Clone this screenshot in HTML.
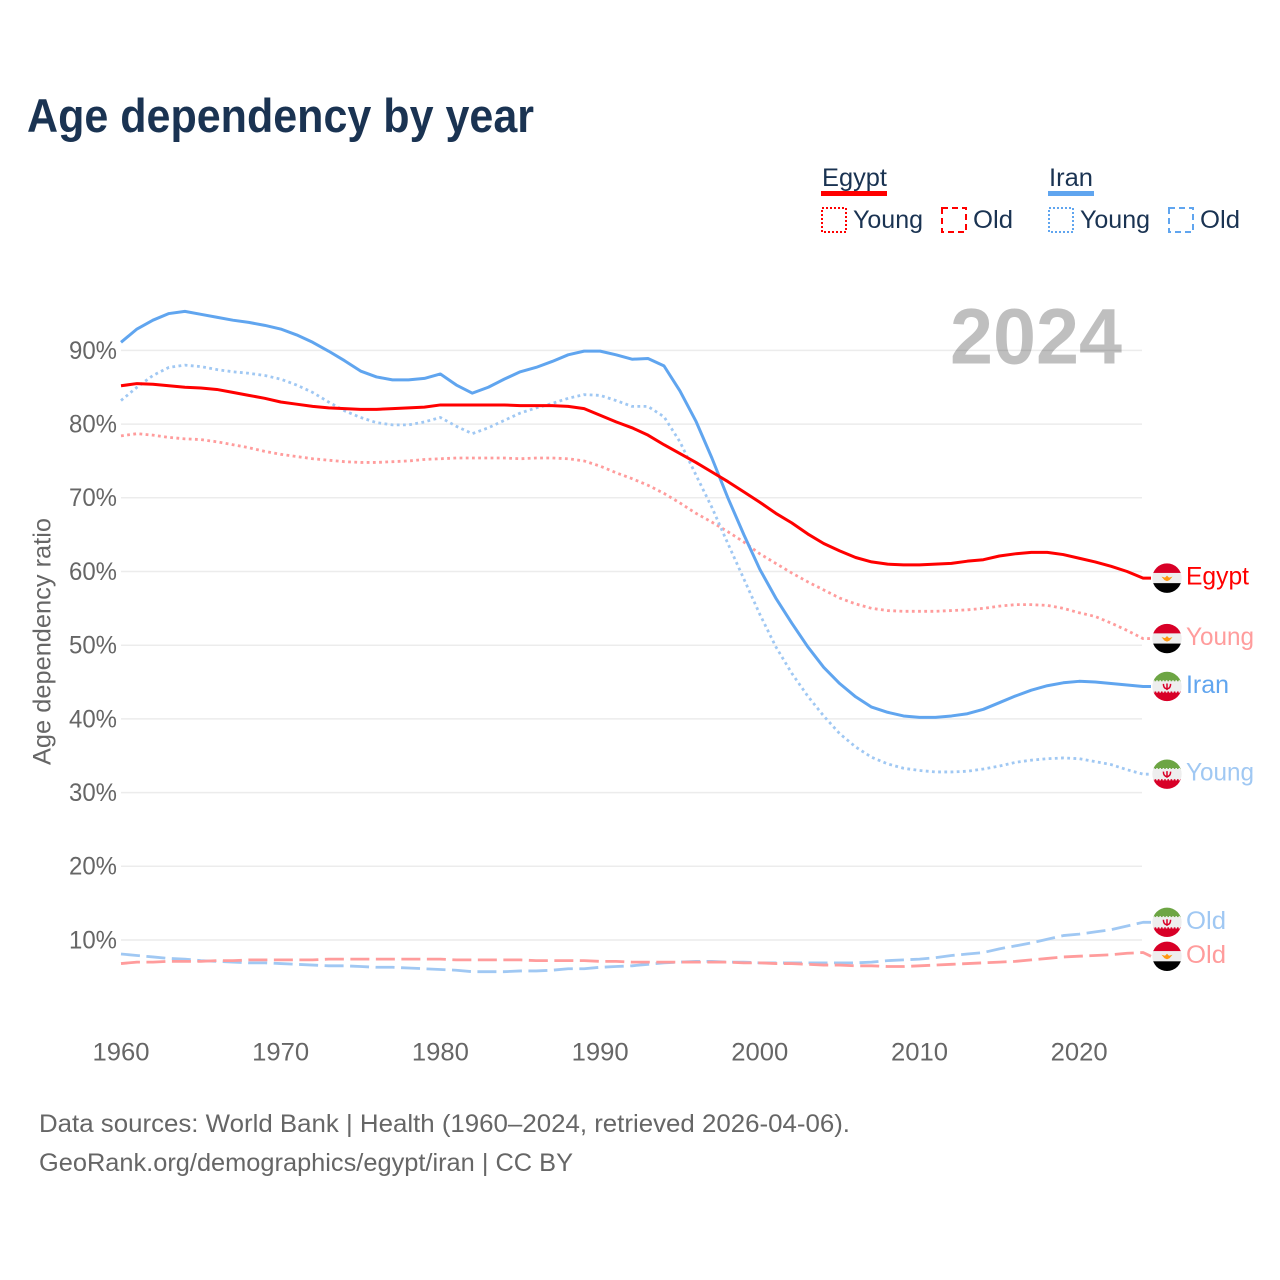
<!DOCTYPE html>
<html lang="en">
<head>
<meta charset="utf-8">
<title>Age dependency by year</title>
<style>
  html, body { margin: 0; padding: 0; background: #fff; }
  svg { display: block; font-family: "Liberation Sans", sans-serif; }
</style>
</head>
<body>
<svg id="chart" xmlns="http://www.w3.org/2000/svg" width="1280" height="1280" viewBox="0 0 1280 1280">
  <rect width="1280" height="1280" fill="#fff"/>
  <defs>
    <clipPath id="flag-clip"><circle cx="0" cy="0" r="14.7"/></clipPath>
  </defs>
  <text x="27" y="132" font-size="47" font-weight="700" fill="#1a3352" textLength="507" lengthAdjust="spacingAndGlyphs">Age dependency by year</text>

  <g font-size="25" fill="#1a3352">
    <g>
      <text x="822" y="186" textLength="65" lengthAdjust="spacingAndGlyphs">Egypt</text>
      <rect x="821" y="191" width="66" height="5" fill="#ff0000"/>
      <rect x="822" y="208" width="24" height="24" fill="none" stroke="#ff0000" stroke-width="2" stroke-dasharray="2 2"/>
      <text x="853" y="228" textLength="70" lengthAdjust="spacingAndGlyphs">Young</text>
      <rect x="942" y="208" width="24" height="24" fill="none" stroke="#ff0000" stroke-width="2" stroke-dasharray="6 4"/>
      <text x="973" y="228" textLength="40" lengthAdjust="spacingAndGlyphs">Old</text>
    </g>
    <g>
      <text x="1049" y="186" textLength="44" lengthAdjust="spacingAndGlyphs">Iran</text>
      <rect x="1048" y="191" width="46" height="5" fill="#60a5ef"/>
      <rect x="1049" y="208" width="24" height="24" fill="none" stroke="#60a5ef" stroke-width="2" stroke-dasharray="2 2"/>
      <text x="1080" y="228" textLength="70" lengthAdjust="spacingAndGlyphs">Young</text>
      <rect x="1169" y="208" width="24" height="24" fill="none" stroke="#60a5ef" stroke-width="2" stroke-dasharray="6 4"/>
      <text x="1200" y="228" textLength="40" lengthAdjust="spacingAndGlyphs">Old</text>
    </g>
  </g>

  <text transform="translate(50.5,765) rotate(-90)" font-size="25" fill="#666" textLength="247" lengthAdjust="spacingAndGlyphs">Age dependency ratio</text>

  <g id="grid"></g>
  <g id="y-axis"></g>
  <g id="x-axis"></g>

  <text x="950" y="363.5" font-size="79" font-weight="700" fill="#000" fill-opacity="0.25" textLength="172" lengthAdjust="spacingAndGlyphs">2024</text>

  <g id="series"></g>
  <g id="end-labels"></g>

  <g font-size="25" fill="#666">
    <text x="39" y="1132" textLength="811" lengthAdjust="spacingAndGlyphs">Data sources: World Bank | Health (1960–2024, retrieved 2026-04-06).</text>
    <text x="39" y="1171" textLength="534" lengthAdjust="spacingAndGlyphs">GeoRank.org/demographics/egypt/iran | CC BY</text>
  </g>
</svg>

<script>
const startYear = 1960;
const yTickValues = [10, 20, 30, 40, 50, 60, 70, 80, 90];
const xTickValues = [1960, 1970, 1980, 1990, 2000, 2010, 2020];

const egyptTotal = [
  85.2,85.5,85.4,85.2,85.0,84.9,84.7,84.3,83.9,83.5,
  83.0,82.7,82.4,82.2,82.1,82.0,82.0,82.1,82.2,82.3,
  82.6,82.6,82.6,82.6,82.6,82.5,82.5,82.5,82.4,82.1,
  81.2,80.3,79.5,78.5,77.2,76.0,74.8,73.5,72.2,70.8,
  69.4,67.9,66.6,65.1,63.8,62.8,61.9,61.3,61.0,60.9,
  60.9,61.0,61.1,61.4,61.6,62.1,62.4,62.6,62.6,62.3,
  61.8,61.3,60.7,60.0,59.1
];
const egyptYoung = [
  78.4,78.7,78.5,78.2,78.0,77.9,77.6,77.2,76.8,76.3,
  75.9,75.6,75.3,75.1,74.9,74.8,74.8,74.9,75.0,75.2,
  75.3,75.4,75.4,75.4,75.4,75.3,75.4,75.4,75.3,75.0,
  74.3,73.4,72.6,71.7,70.6,69.3,67.9,66.7,65.4,64.0,
  62.4,61.1,59.8,58.6,57.5,56.4,55.6,55.0,54.7,54.6,
  54.6,54.6,54.7,54.8,55.0,55.3,55.5,55.5,55.4,55.0,
  54.4,53.9,53.0,52.0,50.9
];
const egyptOld = [
  6.8,7.0,7.0,7.1,7.1,7.1,7.2,7.2,7.3,7.3,
  7.3,7.3,7.3,7.4,7.4,7.4,7.4,7.4,7.4,7.4,
  7.4,7.3,7.3,7.3,7.3,7.3,7.2,7.2,7.2,7.2,
  7.1,7.1,7.0,7.0,7.0,7.0,7.0,7.0,7.0,6.9,
  6.9,6.8,6.8,6.7,6.6,6.6,6.5,6.5,6.4,6.4,
  6.5,6.6,6.7,6.8,6.9,7.0,7.1,7.3,7.5,7.7,
  7.8,7.9,8.0,8.2,8.3
];
const iranTotal = [
  91.1,92.9,94.1,95.0,95.3,94.9,94.5,94.1,93.8,93.4,
  92.9,92.1,91.1,89.9,88.6,87.2,86.4,86.0,86.0,86.2,
  86.8,85.3,84.2,85.0,86.1,87.1,87.7,88.5,89.4,89.9,
  89.9,89.4,88.8,88.9,87.9,84.5,80.4,75.4,70.0,65.0,
  60.3,56.4,53.0,49.8,47.0,44.8,43.0,41.6,40.9,40.4,
  40.2,40.2,40.4,40.7,41.3,42.2,43.1,43.9,44.5,44.9,
  45.1,45.0,44.8,44.6,44.4
];
const iranYoung = [
  83.2,85.0,86.6,87.7,88.0,87.8,87.4,87.1,86.9,86.6,
  86.1,85.3,84.3,83.0,81.8,80.9,80.2,79.9,79.9,80.3,
  80.9,79.7,78.7,79.5,80.5,81.5,82.2,82.8,83.5,84.0,
  83.9,83.2,82.4,82.4,81.0,77.6,73.1,68.7,63.8,59.0,
  54.2,49.8,46.2,43.1,40.4,38.0,36.2,34.8,33.9,33.3,
  33.0,32.8,32.8,32.9,33.2,33.6,34.1,34.4,34.6,34.7,
  34.6,34.2,33.8,33.1,32.5
];
const iranOld = [
  8.1,7.9,7.7,7.5,7.4,7.2,7.1,7.0,6.9,6.9,
  6.8,6.7,6.6,6.5,6.5,6.4,6.3,6.3,6.2,6.1,
  6.0,5.9,5.7,5.7,5.7,5.8,5.8,5.9,6.1,6.1,
  6.3,6.4,6.5,6.7,6.9,7.0,7.1,7.1,7.0,7.0,
  6.9,6.9,6.9,6.9,6.9,6.9,6.9,7.0,7.2,7.3,
  7.4,7.6,7.9,8.1,8.3,8.8,9.2,9.6,10.1,10.6,
  10.8,11.1,11.4,11.9,12.4
];

const NS = 'http://www.w3.org/2000/svg';
const xScale = year => 121 + (year - startYear) * 15.97;
const yScale = value => 1013.7 - value * 7.37;

function make(tag, attrs, parent) {
  const el = document.createElementNS(NS, tag);
  for (const k in attrs) el.setAttribute(k, attrs[k]);
  parent.appendChild(el);
  return el;
}

const gridGroup = document.getElementById('grid');
const yAxisGroup = document.getElementById('y-axis');
const xAxisGroup = document.getElementById('x-axis');
const seriesGroup = document.getElementById('series');
const labelGroup = document.getElementById('end-labels');

yTickValues.forEach(v => {
  const line = make('line', { x1: 121, x2: 1142, y1: yScale(v), y2: yScale(v), stroke: '#ececec', 'stroke-width': 1.5 }, gridGroup);
  
  
  const t = make('text', { x: 117, y: yScale(v) + 8.4, 'text-anchor': 'end', 'font-size': 25, fill: '#666', textLength: 48, lengthAdjust: 'spacingAndGlyphs' }, yAxisGroup);
  t.textContent = v + '%';
  
  
});

xTickValues.forEach(y => {
  const t = make('text', { x: xScale(y), y: 1060.5, 'text-anchor': 'middle', 'font-size': 25, fill: '#666', textLength: 57, lengthAdjust: 'spacingAndGlyphs' }, xAxisGroup);
  t.textContent = String(y);
  
  
});

const seriesList = [
  { key: 'iran-old', values: iranOld, color: '#a0c8f3', width: 2.8, dash: '19 6.5', label: 'Old', flag: 'iran' },
  { key: 'egypt-old', values: egyptOld, color: '#ff9c9c', width: 2.8, dash: '19 6.5', label: 'Old', flag: 'egypt' },
  { key: 'egypt-young', values: egyptYoung, color: '#ff9c9c', width: 2.8, dash: '2.8 3.4', label: 'Young', flag: 'egypt' },
  { key: 'iran-young', values: iranYoung, color: '#a0c8f3', width: 2.8, dash: '2.8 3.4', label: 'Young', flag: 'iran' },
  { key: 'iran-total', values: iranTotal, color: '#60a5ef', width: 3, dash: '', label: 'Iran', flag: 'iran' },
  { key: 'egypt-total', values: egyptTotal, color: '#ff0000', width: 3, dash: '', label: 'Egypt', flag: 'egypt' }
];

const labelWidths = { Egypt: 63, Young: 68, Iran: 43, Old: 40 };

// End-label positions follow the last value, pushed apart when they would collide.
const ordered = seriesList.slice().sort((a, b) =>
  yScale(a.values[a.values.length - 1]) - yScale(b.values[b.values.length - 1]));
let previousY = -Infinity;
ordered.forEach(s => {
  const lastY = yScale(s.values[s.values.length - 1]);
  s.labelY = Math.max(lastY, previousY + 34);
  previousY = s.labelY;
});

function drawFlag(parent, kind, cx, cy) {
  const g = make('g', { transform: 'translate(' + cx + ' ' + cy + ')' }, parent);
  
  
  const c = make('g', { 'clip-path': 'url(#flag-clip)' }, g);
  const top = kind === 'egypt' ? '#d80027' : '#6da544';
  const bottom = kind === 'egypt' ? '#000000' : '#d80027';
  make('rect', { x: -15, y: -15, width: 30, height: 10, fill: top }, c);
  make('rect', { x: -15, y: -5.2, width: 30, height: 10.4, fill: '#eeeeee' }, c);
  make('rect', { x: -15, y: 5, width: 30, height: 10, fill: bottom }, c);
  if (kind === 'egypt') {
    make('path', { d: 'M-5.5 -1.5 L-2 -0.5 L0 -2.5 L2 -0.5 L5.5 -1.5 L2.5 2 L0 3 L-2.5 2 Z', fill: '#ff9811' }, c);
  } else {
    make('path', { d: 'M-3.6 -2.6 C-3.6 1 -2 2.2 0 2.4 C2 2.2 3.6 1 3.6 -2.6', fill: 'none', stroke: '#d80027', 'stroke-width': 1.5 }, c);
    make('line', { x1: 0, x2: 0, y1: -3, y2: 3.6, stroke: '#d80027', 'stroke-width': 1.5 }, c);
    make('line', { x1: -14, x2: 14, y1: -5.4, y2: -5.4, stroke: '#eeeeee', 'stroke-width': 1.6, 'stroke-dasharray': '1.6 1.6' }, c);
    make('line', { x1: -14, x2: 14, y1: 5.4, y2: 5.4, stroke: '#eeeeee', 'stroke-width': 1.6, 'stroke-dasharray': '1.6 1.6' }, c);
  }
}

seriesList.forEach(s => {
  const pts = s.values.map((v, i) => xScale(startYear + i).toFixed(2) + ',' + yScale(v).toFixed(2));
  pts.push('1151,' + s.labelY.toFixed(2));
  const line = make('polyline', {
    points: pts.join(' '), fill: 'none', stroke: s.color, 'stroke-width': s.width,
    'stroke-linejoin': 'round'
  }, seriesGroup);
  if (s.dash) line.setAttribute('stroke-dasharray', s.dash);
  
  

  drawFlag(labelGroup, s.flag, 1167, s.labelY);

  const t = make('text', {
    x: 1186, y: s.labelY + 6.5, 'font-size': 25, fill: s.color,
    textLength: labelWidths[s.label], lengthAdjust: 'spacingAndGlyphs'
  }, labelGroup);
  t.textContent = s.label;
  
  
});
</script>
</body>
</html>
